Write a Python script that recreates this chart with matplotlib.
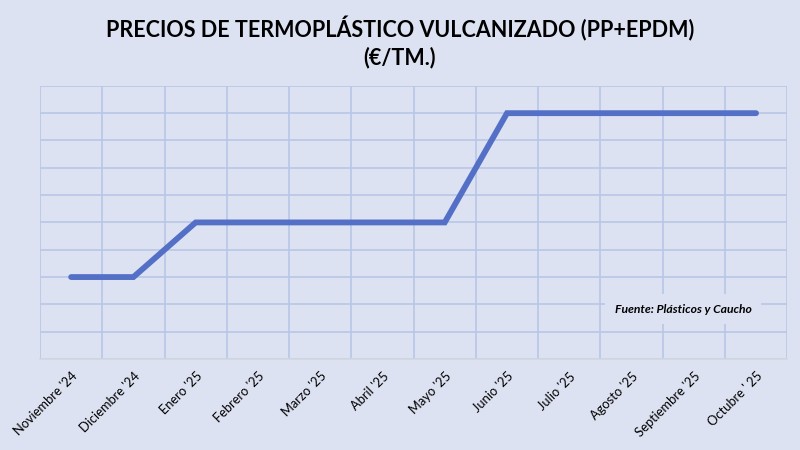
import numpy as np
import matplotlib.pyplot as plt

plt.rcParams['font.family'] = ['Lato', 'DejaVu Sans']

meses = ["Noviembre '24", "Diciembre '24", "Enero '25", "Febrero '25", "Marzo '25",
         "Abril '25", "Mayo '25", "Junio '25", "Julio '25", "Agosto '25",
         "Septiembre '25", "Octubre ' 25"]
precio = [3, 3, 5, 5, 5, 5, 5, 9, 9, 9, 9, 9]

fondo = '#dde2f2'
rejilla = '#b7c7e8'

fig = plt.figure(figsize=(8, 4.5), dpi=100, facecolor=fondo)
ax = fig.add_axes([0.05, 0.2022, 0.934, 0.607])
ax.set_facecolor(fondo)

x = np.arange(len(meses))
ax.plot(x, precio, color='#5470c6', lw=4.2, solid_capstyle='round', solid_joinstyle='miter', zorder=3)

ax.set_xlim(-0.5, len(meses) - 0.5)
ax.set_ylim(0, 10)
ax.set_xticks(x)
ax.set_xticklabels(meses, rotation=45, ha='right', rotation_mode='anchor', fontsize=9.3)
ax.set_xticks(np.arange(-0.5, len(meses), 1), minor=True)
ax.set_yticks(np.arange(0, 11, 1))
ax.set_yticklabels([])
ax.tick_params(which='both', length=0)
ax.tick_params(axis='x', pad=8)
ax.grid(True, which='minor', axis='x', color=rejilla, lw=1.2)
ax.grid(True, which='major', axis='y', color=rejilla, lw=1.2)
ax.grid(False, which='major', axis='x')
for s in ['left', 'right', 'top']:
    ax.spines[s].set_visible(False)
ax.spines['bottom'].set_color('#d3d6e0')
ax.spines['bottom'].set_linewidth(1.2)

ax.text(0.861, 0.183, 'Fuente: Plásticos y Caucho', transform=ax.transAxes,
        ha='center', va='center', fontsize=8.7, fontstyle='italic', fontweight='bold',
        zorder=4, bbox=dict(boxstyle='square,pad=0.8', fc=fondo, ec='none'))

fig.text(0.5, 0.937, 'PRECIOS DE TERMOPLÁSTICO VULCANIZADO (PP+EPDM)', ha='center', va='center',
         fontsize=15.5, fontweight='bold')
fig.text(0.5, 0.873, '(€/TM.)', ha='center', va='center', fontsize=15.5, fontweight='bold')

fig.savefig('out.png', dpi=100, facecolor=fondo)
